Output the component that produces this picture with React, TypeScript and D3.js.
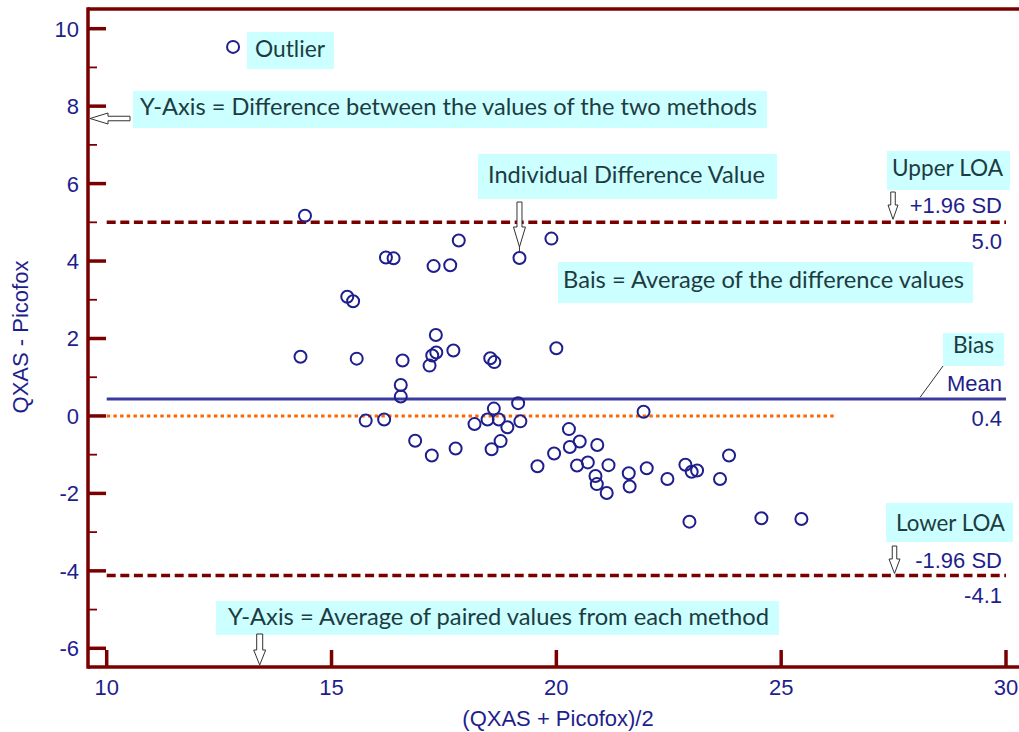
import React from 'react';
import * as d3 from 'd3';

// Bland-Altman data: average of the two methods (x) and their difference (y)
const avgVals = [
  12.81, 14.41, 17.83, 16.21, 16.38, 17.27, 17.64, 19.18, 19.89, 15.35,
  15.48, 17.32, 14.31, 15.56, 16.58, 17.33, 17.24, 17.18, 17.71, 18.53,
  18.62, 20.0, 16.54, 16.54, 15.76, 16.17, 16.86, 17.23, 17.76, 18.18,
  18.47, 18.61, 18.72, 18.91, 19.15, 19.2, 18.76, 18.56, 19.58, 19.95,
  20.28, 20.3, 21.94, 20.52, 20.91, 20.46, 20.7, 21.16, 20.87, 20.9,
  21.12, 21.61, 21.63, 22.01, 22.47, 22.87, 23.01, 23.13, 23.64, 23.84,
  22.96, 24.56, 25.45,
];
const diffVals = [
  9.53, 5.17, 4.53, 4.09, 4.07, 3.87, 3.89, 4.08, 4.58, 3.08,
  2.96, 2.09, 1.53, 1.48, 1.43, 1.64, 1.56, 1.3, 1.69, 1.49,
  1.39, 1.75, 0.8, 0.5, -0.12, -0.09, -0.64, -1.02, -0.84, -0.21,
  -0.09, 0.19, -0.09, -0.29, 0.33, -0.14, -0.65, -0.86, -1.3, -0.97,
  -0.34, -0.8, 0.11, -0.66, -0.75, -1.28, -1.2, -1.27, -1.55, -1.76,
  -1.99, -1.48, -1.82, -1.35, -1.63, -1.26, -1.44, -1.41, -1.63, -1.02,
  -2.73, -2.64, -2.66,
];

const xTicks = [10, 15, 20, 25, 30];
const yTicks = [-6, -4, -2, 0, 2, 4, 6, 8, 10];
const yMinorTicks = [-5, -3, -1, 1, 3, 5, 7, 9];

const bias = 0.44;
const upperLOA = 5.0;
const lowerLOA = -4.12;
const biasLabel = '0.4';
const upperLabel = '5.0';
const lowerLabel = '-4.1';
const zeroLineEnd = 26.2;

const AXIS = '#7a0000';
const NAVY = '#1e1e8c';
const MEAN = '#3b3b9e';
const ORANGE = '#ff6600';
const BOX = '#ccffff';
const BOXTEXT = '#1d3c42';
const NUMFONT = '"Liberation Sans", Arial, sans-serif';
const ANNFONT = 'Lato, "Open Sans", sans-serif';

type Ann = { x0: number; y0: number; x1: number; y1: number; text: string; tx: number; ty: number; tw: number };
const annotations: Ann[] = [
  { x0: 247, y0: 32, x1: 334, y1: 69, text: 'Outlier', tx: 255, ty: 57, tw: 70 },
  { x0: 133, y0: 91, x1: 767, y1: 128, text: 'Y-Axis = Difference between the values of the two methods', tx: 140, ty: 115, tw: 617 },
  { x0: 478, y0: 154, x1: 777, y1: 199, text: 'Individual Difference Value', tx: 488, ty: 183, tw: 277 },
  { x0: 887, y0: 151, x1: 1010, y1: 190, text: 'Upper LOA', tx: 892, ty: 176, tw: 111 },
  { x0: 558, y0: 262, x1: 973, y1: 303, text: 'Bais = Average of the difference values', tx: 563, ty: 288, tw: 401 },
  { x0: 943, y0: 333, x1: 1004, y1: 366, text: 'Bias', tx: 953, ty: 353, tw: 41 },
  { x0: 886, y0: 503, x1: 1013, y1: 542, text: 'Lower LOA', tx: 896, ty: 531, tw: 109 },
  { x0: 216, y0: 601, x1: 779, y1: 635, text: 'Y-Axis = Average of paired values from each method', tx: 228, ty: 625, tw: 541 },
];

function downArrow(cx: number, top: number, headStart: number, tip: number, shaftW: number, headW: number) {
  const p = d3.path();
  p.moveTo(cx - shaftW / 2, top);
  p.lineTo(cx + shaftW / 2, top);
  p.lineTo(cx + shaftW / 2, headStart);
  p.lineTo(cx + headW / 2, headStart);
  p.lineTo(cx, tip);
  p.lineTo(cx - headW / 2, headStart);
  p.lineTo(cx - shaftW / 2, headStart);
  p.closePath();
  return p.toString();
}
function leftArrow(cy: number, right: number, headStart: number, tip: number, shaftH: number, headH: number) {
  const p = d3.path();
  p.moveTo(right, cy - shaftH / 2);
  p.lineTo(right, cy + shaftH / 2);
  p.lineTo(headStart, cy + shaftH / 2);
  p.lineTo(headStart, cy + headH / 2);
  p.lineTo(tip, cy);
  p.lineTo(headStart, cy - headH / 2);
  p.lineTo(headStart, cy - shaftH / 2);
  p.closePath();
  return p.toString();
}

export default function App() {
  const W = 1019;
  const H = 732;
  const x = d3.scaleLinear().domain([10, 30]).range([106.7, 1006]);
  const y = d3.scaleLinear().domain([-6, 10]).range([648.3, 28.7]);
  const axisLeft = 88;
  const axisTop = 9;
  const axisBottom = 667;

  const points = avgVals.map((v, i) => ({ ax: v, d: diffVals[i] }));
  const hLine = d3.line<[number, number]>().x((d) => x(d[0])).y((d) => y(d[1]));

  const indiv = points[7];

  return (
    <svg width={W} height={H} style={{ position: 'absolute', left: 0, top: 0, display: 'block', background: '#fff' }}>
      {/* reference lines */}
      <path d={hLine([[10, 0], [zeroLineEnd, 0]]) || ''} stroke={ORANGE} strokeWidth={3} strokeDasharray="3.4 3.3" fill="none" />
      <path d={hLine([[10, upperLOA], [30, upperLOA]]) || ''} stroke={AXIS} strokeWidth={3.5} strokeDasharray="9 4.6" fill="none" />
      <path d={hLine([[10, lowerLOA], [30, lowerLOA]]) || ''} stroke={AXIS} strokeWidth={3.5} strokeDasharray="9 4.6" fill="none" />
      <path d={hLine([[10, bias], [30, bias]]) || ''} stroke={MEAN} strokeWidth={3} fill="none" />

      {/* points */}
      {points.map((p, i) => (
        <circle key={i} cx={x(p.ax)} cy={y(p.d)} r={6} fill="none" stroke={NAVY} strokeWidth={2} />
      ))}

      {/* axes */}
      <line x1={axisLeft} y1={axisTop} x2={W} y2={axisTop} stroke={AXIS} strokeWidth={3.5} />
      <line x1={axisLeft} y1={axisTop - 1.7} x2={axisLeft} y2={axisBottom + 1.7} stroke={AXIS} strokeWidth={3.5} />
      <line x1={axisLeft} y1={axisBottom} x2={W} y2={axisBottom} stroke={AXIS} strokeWidth={3.5} />
      {yTicks.map((t) => (
        <g key={'yt' + t}>
          <line x1={axisLeft} x2={106} y1={y(t)} y2={y(t)} stroke={AXIS} strokeWidth={3.5} />
          <text x={79} y={y(t)} dy="0.36em" textAnchor="end" fontFamily={NUMFONT} fontSize={22} fill={NAVY}>{t}</text>
        </g>
      ))}
      {yMinorTicks.map((t) => (
        <line key={'ym' + t} x1={axisLeft} x2={97} y1={y(t)} y2={y(t)} stroke={AXIS} strokeWidth={1.8} />
      ))}
      {xTicks.map((t) => (
        <g key={'xt' + t}>
          <line x1={x(t)} x2={x(t)} y1={axisBottom} y2={650} stroke={AXIS} strokeWidth={3.5} />
          <text x={x(t)} y={695} textAnchor="middle" fontFamily={NUMFONT} fontSize={22} fill={NAVY}>{t}</text>
        </g>
      ))}
      <text transform="translate(28,337) rotate(-90)" textAnchor="middle" fontFamily={NUMFONT} fontSize={22} fill={NAVY}>QXAS - Picofox</text>
      <text x={558} y={726} textAnchor="middle" fontFamily={NUMFONT} fontSize={22} fill={NAVY}>(QXAS + Picofox)/2</text>

      {/* right-side labels */}
      <g fontFamily={NUMFONT} fontSize={22} fill={NAVY} textAnchor="end">
        <text x={1002} y={213}>+1.96 SD</text>
        <text x={1002} y={249}>{upperLabel}</text>
        <text x={1002} y={391}>Mean</text>
        <text x={1002} y={426}>{biasLabel}</text>
        <text x={1002} y={568}>-1.96 SD</text>
        <text x={1002} y={603}>{lowerLabel}</text>
      </g>

      {/* annotation boxes */}
      {annotations.map((a, i) => (
        <g key={'a' + i}>
          <rect x={a.x0} y={a.y0} width={a.x1 - a.x0} height={a.y1 - a.y0} fill={BOX} />
          <text x={a.tx} y={a.ty} fontFamily={ANNFONT} fontSize={23} fill={BOXTEXT} textLength={a.tw} lengthAdjust="spacingAndGlyphs">{a.text}</text>
        </g>
      ))}

      {/* arrows */}
      <g fill="#fff" stroke="#333" strokeWidth={1}>
        <path d={leftArrow(118.5, 130, 108, 90, 4.5, 11)} />
        <path d={downArrow(x(indiv.ax), 202, 227, 247, 5, 12)} />
        <line x1={x(indiv.ax)} x2={x(indiv.ax)} y1={247} y2={y(indiv.d) - 6} />
        <path d={downArrow(893, 192, 205, y(upperLOA) - 3, 4.5, 10)} />
        <path d={downArrow(894.5, 546, 559, y(lowerLOA) - 2, 4.5, 11)} />
        <path d={downArrow(259.7, 634, 650, axisBottom - 2, 6, 12)} />
        <line x1={943} y1={366} x2={920} y2={y(bias) - 1.5} stroke="#333" />
      </g>
    </svg>
  );
}
